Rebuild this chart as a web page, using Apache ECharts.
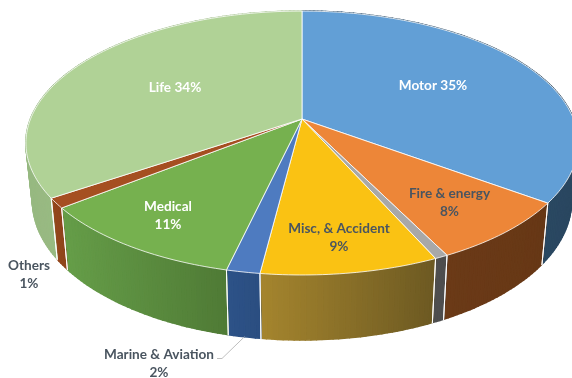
<!DOCTYPE html>
<html><head><meta charset="utf-8">
<style>html,body{margin:0;padding:0;background:#fff}#c{width:572px;height:378px}</style>
<script src="https://cdn.jsdelivr.net/npm/echarts@6/dist/echarts.min.js"></script>
</head><body><div id="c"></div>
<script>
// data, clockwise from 12 o'clock
const categories = ['Motor','Fire & energy','','Misc, & Accident','Marine & Aviation','Medical','Others','Life'];
const values = [35,7.6,0.65,8.75,1.65,10.7,1.2,34.4];
const labelBreak = [' ','\n','','\n','\n','\n','\n',' '];
// styles
const topColors = ['#629FD6','#ED8638','#A8A8A8','#FAC213','#4E7BC0','#76B14F','#A54F21','#B0D296'];
const wallLeft  = ['#2C4D6A','#6B3A17','#4E4E4E','#A5852E','#2D5288','#669E49','#96481D','#97B981'];
const wallRight = ['#2A4760','#673816','#4E4E4E','#6C5922','#2B4E80','#4F7A35','#8C431B','#A3C08C'];
const labelColors = ['#fff','#4a5560','','#4a5560','#4a5560','#fff','#4a5560','#fff'];
const labelCenters = [[433,86],[449.5,203],null,[339,238],[159,364],[168,216],[29,275],[175,88]];
// projection of the pie disc
const cx=302, cy=119, A=271.5, B=127.6, K=0.182, shrink=0.976, wallScale=1.054, wallShift=50.1;
const total = values.reduce((a,b)=>a+b,0);
function topPoint(frac){
  const t=frac*2*Math.PI, X=Math.sin(t), Y=-Math.cos(t), w=1-K*Y;
  return [cx+A*X/w, cy+B*Y/w];
}
function lowPoint(p){ return [cx+(p[0]-cx)*shrink, p[1]*wallScale+wallShift]; }
function arc(a,b){
  const n=Math.max(2,Math.ceil((b-a)*360)), pts=[];
  for(let i=0;i<=n;i++) pts.push(topPoint(a+(b-a)*i/n));
  return pts;
}
function renderItem(params, api){
  const i=params.dataIndex;
  let start=0; for(let j=0;j<i;j++) start+=values[j]/total;
  const end=start+api.value(1)/total;
  const top=arc(start,end), low=top.map(lowPoint);
  const xs=top.concat(low).map(p=>p[0]);
  const xa=Math.min(...xs), xb=Math.max(...xs);
  const mix=x=>{
    const f=(x-xa)/(xb-xa||1), a=echarts.color.parse(wallLeft[i]), b=echarts.color.parse(wallRight[i]);
    return 'rgb('+[0,1,2].map(k=>Math.round(a[k]+(b[k]-a[k])*f)).join(',')+')';
  };
  const kids=[];
  // the wall is a strip of quads, so it also fills the fold at the silhouette
  for(let k=0;k<top.length-1;k++){
    const col=mix((top[k][0]+top[k+1][0]+low[k][0]+low[k+1][0])/4);
    kids.push({type:'polygon',z2:1,shape:{points:[top[k],top[k+1],low[k+1],low[k]]},
      style:{fill:col,stroke:col,lineWidth:1.6,lineJoin:'round'}});
  }
  // white seams between walls
  [0,top.length-1].forEach(k=>kids.push({type:'line',z2:2,
    shape:{x1:top[k][0],y1:top[k][1],x2:low[k][0],y2:low[k][1]+0.8},
    style:{stroke:'#fff',lineWidth:1}}));
  kids.push({type:'polygon',z2:5,shape:{points:[[cx,cy]].concat(top)},
     style:{fill:topColors[i],stroke:'#fff',lineWidth:0.8,lineJoin:'round'}});
  if(categories[i]){
    kids.push({type:'text',z2:10,x:labelCenters[i][0],y:labelCenters[i][1],
      style:{text:categories[i]+labelBreak[i]+Math.round(values[i])+'%',fill:labelColors[i],
        font:'bold 13.6px Lato',align:'center',verticalAlign:'middle',lineHeight:18}});
  }
  if(categories[i]==='Marine & Aviation'){
    const p=lowPoint(topPoint((start+end)/2));
    kids.push({type:'polyline',z2:10,shape:{points:[p,[222,358.5],[217,358.5]]},
      style:{fill:null,stroke:'#BFBFBF',lineWidth:1}});
  }
  return {type:'group',children:kids};
}
const chart=echarts.init(document.getElementById('c'),null,{renderer:'canvas'});
chart.setOption({
  animation:false,
  backgroundColor:'#fff',
  series:[{type:'custom',coordinateSystem:'none',silent:true,clip:false,
    renderItem,data:values.map((v,i)=>[i,v]),encode:{value:1}}]
});
</script></body></html>
